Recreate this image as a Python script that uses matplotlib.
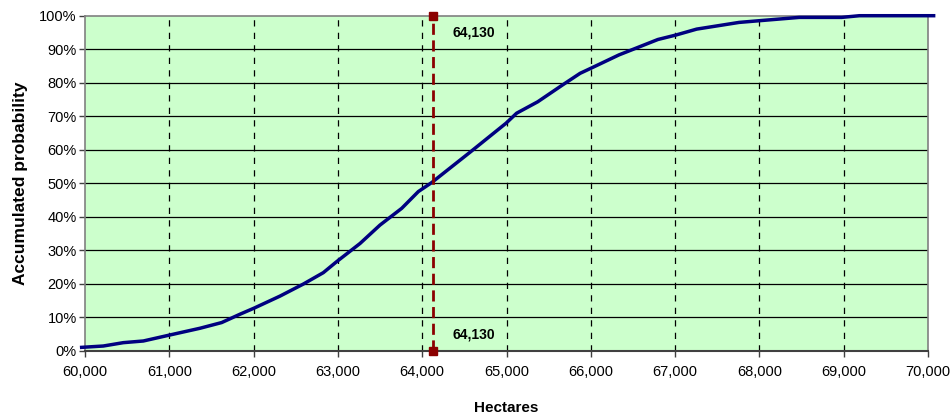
import numpy as np
import matplotlib.pyplot as plt
from matplotlib.ticker import FuncFormatter, MultipleLocator

plt.rcParams['font.family'] = ['Liberation Sans', 'DejaVu Sans']

# Curva de probabilidad acumulada
hectares = [59960, 60217, 60454, 60692, 61008, 61364, 61621, 61839, 62005,
            62313, 62590, 62827, 62986, 63262, 63499, 63757, 63954, 64113,
            64575, 64994, 65120, 65370, 65663, 65873, 66000, 66334, 66796,
            67005, 67256, 67759, 67995, 68473, 68976, 69186, 70067]
probability = [1.0, 1.4, 2.4, 2.9, 4.7, 6.7, 8.4, 10.9, 12.7,
               16.3, 19.9, 23.3, 26.6, 32.0, 37.5, 42.5, 47.5, 50.2,
               59.4, 67.9, 70.9, 74.3, 79.3, 82.8, 84.3, 88.3, 92.9,
               94.2, 96.0, 98.0, 98.5, 99.5, 99.5, 100.0, 100.0]

# Valor marcado
mark_value = 64130
mark_label = '64,130'

fig = plt.figure(figsize=(9.51, 4.19), dpi=100)
ax = fig.add_axes([0.0894, 0.163, 0.8864, 0.7995])
ax.set_facecolor('#CCFFCC')

ax.set_xlim(60000, 70000)
ax.set_ylim(0, 100)
ax.xaxis.set_major_locator(MultipleLocator(1000))
ax.yaxis.set_major_locator(MultipleLocator(10))
ax.xaxis.set_major_formatter(FuncFormatter(lambda v, p: f'{v:,.0f}'))
ax.yaxis.set_major_formatter(FuncFormatter(lambda v, p: f'{v:.0f}%'))

# Rejilla
for yv in range(10, 100, 10):
    ax.axhline(yv, color='black', lw=0.9, zorder=1)
for xv in range(61000, 70000, 1000):
    ax.axvline(xv, color='black', lw=0.9, ls=(0, (5, 5)), zorder=1)

# Curva
ax.plot(hectares, probability, color='#000080', lw=2.5, zorder=3, clip_on=False)

# Línea del valor marcado
ax.plot([mark_value, mark_value], [0, 100], color='#8B0000', lw=2,
        ls=(0, (4, 2)), marker='s', markersize=6, zorder=4, clip_on=False)
ax.annotate(mark_label, (mark_value, 100), xytext=(14, -12),
            textcoords='offset points', fontsize=10, fontweight='bold',
            ha='left', va='center')
ax.annotate(mark_label, (mark_value, 0), xytext=(14, 12),
            textcoords='offset points', fontsize=10, fontweight='bold',
            ha='left', va='center')

for side in ['top', 'right', 'left']:
    ax.spines[side].set_color('#808080')
    ax.spines[side].set_linewidth(1.2)
ax.spines['bottom'].set_color('#404040')
ax.spines['bottom'].set_linewidth(1.5)

ax.tick_params(axis='both', labelsize=10.5, length=4, width=1, color='#404040')
ax.tick_params(axis='x', pad=6)
ax.tick_params(axis='y', pad=2)

ax.set_xlabel('Hectares', fontsize=11, fontweight='bold', labelpad=16)
ax.set_ylabel('Accumulated probability', fontsize=12.5, fontweight='bold', labelpad=8)

fig.savefig('out.png', dpi=100)
